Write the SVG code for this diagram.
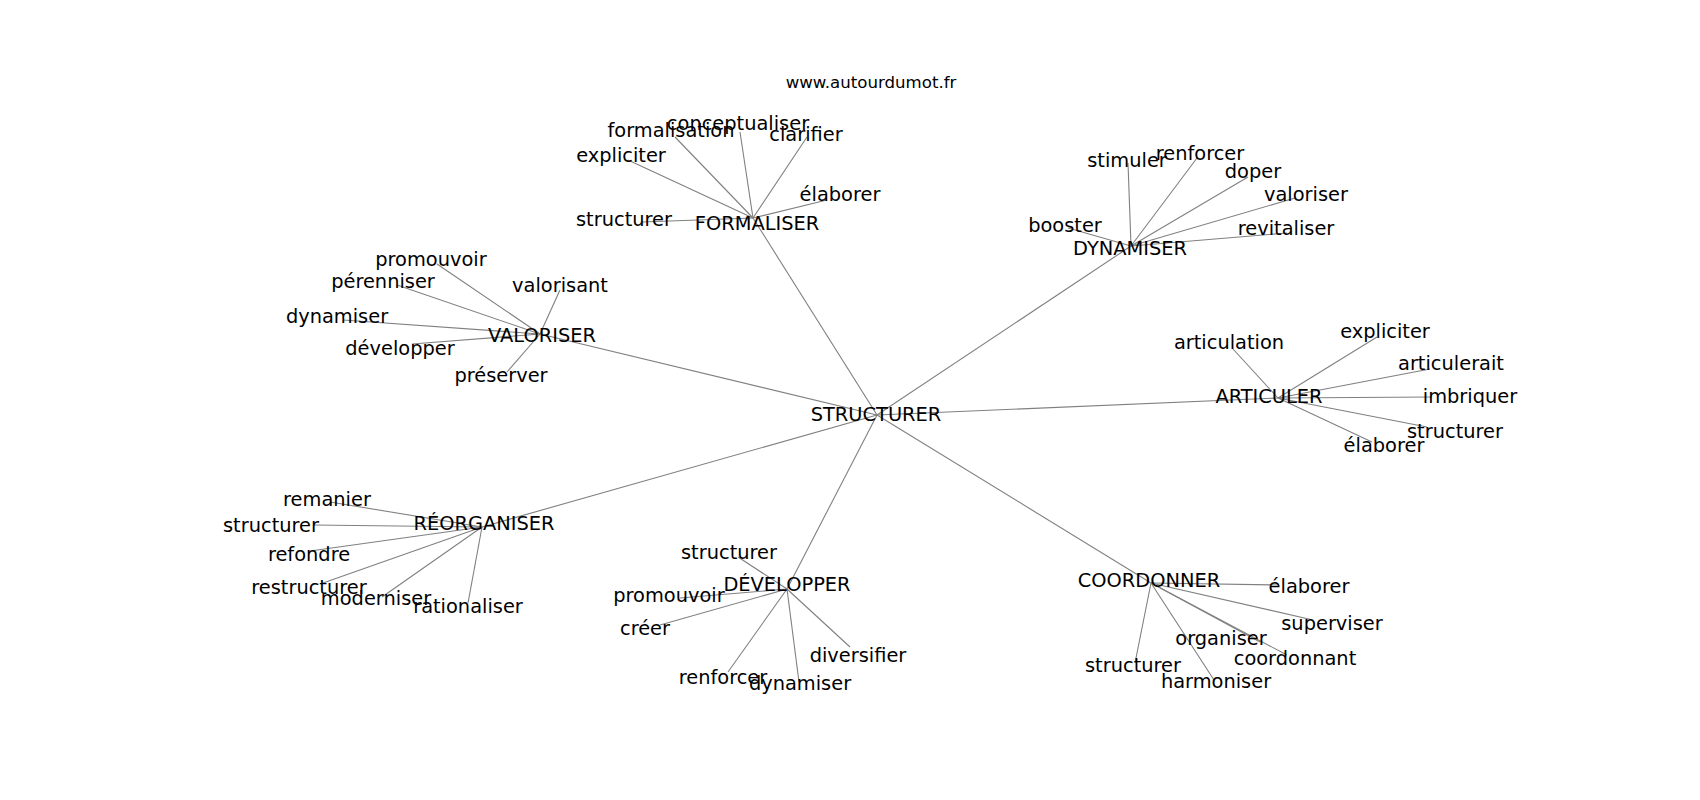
<svg xmlns="http://www.w3.org/2000/svg" width="1700" height="800" viewBox="0 0 1700 800">
<style>
text{font-family:"DejaVu Sans","Liberation Sans",sans-serif;fill:#000;text-anchor:middle}
.l{font-size:19.4px}
.t{font-size:16.6px}
#edges line{stroke:#808080;stroke-width:1.1}
</style>
<rect width="1700" height="800" fill="#fff"/>
<text class="t" x="871" y="88">www.autourdumot.fr</text>
<g id="edges">
<line x1="877" y1="415" x2="753" y2="218"/>
<line x1="877" y1="415" x2="1131" y2="246"/>
<line x1="877" y1="415" x2="540" y2="334"/>
<line x1="877" y1="415" x2="1278" y2="398"/>
<line x1="877" y1="415" x2="482" y2="527"/>
<line x1="877" y1="415" x2="787" y2="589"/>
<line x1="877" y1="415" x2="1151" y2="583"/>
<line x1="753" y1="218" x2="675" y2="137"/>
<line x1="753" y1="218" x2="740" y2="132"/>
<line x1="753" y1="218" x2="807" y2="137"/>
<line x1="753" y1="218" x2="628" y2="160"/>
<line x1="753" y1="218" x2="827" y2="200"/>
<line x1="753" y1="218" x2="642" y2="222"/>
<line x1="1131" y1="246" x2="1128" y2="163"/>
<line x1="1131" y1="246" x2="1197" y2="158"/>
<line x1="1131" y1="246" x2="1248" y2="177"/>
<line x1="1131" y1="246" x2="1295" y2="198"/>
<line x1="1131" y1="246" x2="1287" y2="233"/>
<line x1="1131" y1="246" x2="1068" y2="228"/>
<line x1="540" y1="334" x2="437" y2="264"/>
<line x1="540" y1="334" x2="397" y2="285"/>
<line x1="540" y1="334" x2="343" y2="320"/>
<line x1="540" y1="334" x2="412" y2="344"/>
<line x1="540" y1="334" x2="560" y2="290"/>
<line x1="540" y1="334" x2="507" y2="372"/>
<line x1="1278" y1="398" x2="1233" y2="349"/>
<line x1="1278" y1="398" x2="1377" y2="337"/>
<line x1="1278" y1="398" x2="1430" y2="369"/>
<line x1="1278" y1="398" x2="1432" y2="397"/>
<line x1="1278" y1="398" x2="1427" y2="427"/>
<line x1="1278" y1="398" x2="1372" y2="442"/>
<line x1="482" y1="527" x2="330" y2="502"/>
<line x1="482" y1="527" x2="313" y2="525"/>
<line x1="482" y1="527" x2="310" y2="551"/>
<line x1="482" y1="527" x2="323" y2="583"/>
<line x1="482" y1="527" x2="382" y2="597"/>
<line x1="482" y1="527" x2="468" y2="603"/>
<line x1="787" y1="589" x2="738" y2="557"/>
<line x1="787" y1="589" x2="680" y2="598"/>
<line x1="787" y1="589" x2="660" y2="625"/>
<line x1="787" y1="589" x2="728" y2="672"/>
<line x1="787" y1="589" x2="799" y2="682"/>
<line x1="787" y1="589" x2="850" y2="647"/>
<line x1="1151" y1="583" x2="1277" y2="585"/>
<line x1="1151" y1="583" x2="1313" y2="620"/>
<line x1="1151" y1="583" x2="1260" y2="642"/>
<line x1="1151" y1="583" x2="1287" y2="655"/>
<line x1="1151" y1="583" x2="1135" y2="663"/>
<line x1="1151" y1="583" x2="1214" y2="680"/>
</g>
<g id="n-structurer"><text class="l" x="876" y="421">STRUCTURER</text></g>
<g id="n-formaliser"><text class="l" x="757" y="230">FORMALISER</text></g>
<g id="n-dynamiser"><text class="l" x="1130" y="255">DYNAMISER</text></g>
<g id="n-valoriser"><text class="l" x="542" y="342">VALORISER</text></g>
<g id="n-articuler"><text class="l" x="1269" y="403">ARTICULER</text></g>
<g id="n-reorganiser"><text class="l" x="484" y="530">RÉORGANISER</text></g>
<g id="n-developper"><text class="l" x="787" y="591">DÉVELOPPER</text></g>
<g id="n-coordonner"><text class="l" x="1149" y="587">COORDONNER</text></g>
<g id="f-formalisation"><text class="l" x="671" y="137">formalisation</text></g>
<g id="f-conceptualiser"><text class="l" x="738" y="130">conceptualiser</text></g>
<g id="f-clarifier"><text class="l" x="806" y="141">clarifier</text></g>
<g id="f-expliciter"><text class="l" x="621" y="162">expliciter</text></g>
<g id="f-elaborer"><text class="l" x="840" y="201">élaborer</text></g>
<g id="f-structurer"><text class="l" x="624" y="226">structurer</text></g>
<g id="d-stimuler"><text class="l" x="1127" y="167">stimuler</text></g>
<g id="d-renforcer"><text class="l" x="1200" y="160">renforcer</text></g>
<g id="d-doper"><text class="l" x="1253" y="178">doper</text></g>
<g id="d-valoriser"><text class="l" x="1306" y="201">valoriser</text></g>
<g id="d-revitaliser"><text class="l" x="1286" y="235">revitaliser</text></g>
<g id="d-booster"><text class="l" x="1065" y="232">booster</text></g>
<g id="v-promouvoir"><text class="l" x="431" y="266">promouvoir</text></g>
<g id="v-perenniser"><text class="l" x="383" y="288">pérenniser</text></g>
<g id="v-dynamiser"><text class="l" x="337" y="323">dynamiser</text></g>
<g id="v-developper"><text class="l" x="400" y="355">développer</text></g>
<g id="v-valorisant"><text class="l" x="560" y="292">valorisant</text></g>
<g id="v-preserver"><text class="l" x="501" y="382">préserver</text></g>
<g id="a-articulation"><text class="l" x="1229" y="349">articulation</text></g>
<g id="a-expliciter"><text class="l" x="1385" y="338">expliciter</text></g>
<g id="a-articulerait"><text class="l" x="1451" y="370">articulerait</text></g>
<g id="a-imbriquer"><text class="l" x="1470" y="403">imbriquer</text></g>
<g id="a-structurer"><text class="l" x="1455" y="438">structurer</text></g>
<g id="a-elaborer"><text class="l" x="1384" y="452">élaborer</text></g>
<g id="r-remanier"><text class="l" x="327" y="506">remanier</text></g>
<g id="r-structurer"><text class="l" x="271" y="532">structurer</text></g>
<g id="r-refondre"><text class="l" x="309" y="561">refondre</text></g>
<g id="r-restructurer"><text class="l" x="309" y="594">restructurer</text></g>
<g id="r-moderniser"><text class="l" x="376" y="605">moderniser</text></g>
<g id="r-rationaliser"><text class="l" x="468" y="613">rationaliser</text></g>
<g id="dv-structurer"><text class="l" x="729" y="559">structurer</text></g>
<g id="dv-promouvoir"><text class="l" x="669" y="602">promouvoir</text></g>
<g id="dv-creer"><text class="l" x="645" y="635">créer</text></g>
<g id="dv-renforcer"><text class="l" x="723" y="684">renforcer</text></g>
<g id="dv-dynamiser"><text class="l" x="800" y="690">dynamiser</text></g>
<g id="dv-diversifier"><text class="l" x="858" y="662">diversifier</text></g>
<g id="c-elaborer"><text class="l" x="1309" y="593">élaborer</text></g>
<g id="c-superviser"><text class="l" x="1332" y="630">superviser</text></g>
<g id="c-organiser"><text class="l" x="1221" y="645">organiser</text></g>
<g id="c-coordonnant"><text class="l" x="1295" y="665">coordonnant</text></g>
<g id="c-structurer"><text class="l" x="1133" y="672">structurer</text></g>
<g id="c-harmoniser"><text class="l" x="1216" y="688">harmoniser</text></g>
</svg>
